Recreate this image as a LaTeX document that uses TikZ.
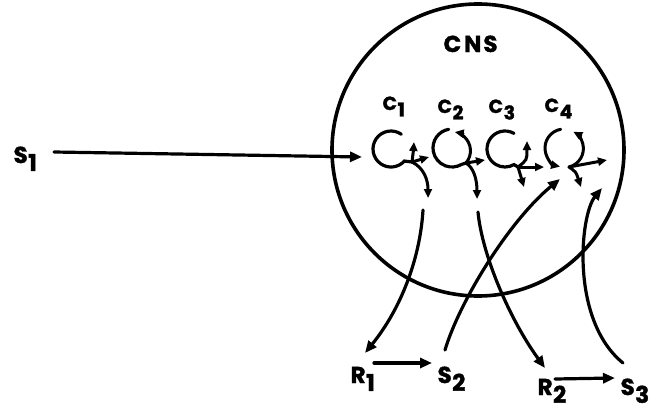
\documentclass[tikz,border=0pt]{standalone}
\usepackage{fontspec}
\setmainfont{Poppins}[BoldFeatures={FakeBold=1.6}]
\usetikzlibrary{arrows.meta}
\newcommand\lblsub[2]{#1\kern0.5pt\raisebox{-0.34em}{#2}}
\begin{document}
\begin{tikzpicture}[x=1pt,y=-1pt,
  line width=3.2pt, line cap=round,
  arr/.style={-{Triangle[length=12pt,width=10pt]}, line width=3.2pt},
  sarr/.style={-{Triangle[length=9pt,width=8pt]}, line width=3pt},
  lab/.style={font=\fontsize{23}{23}\selectfont\bfseries, inner sep=0pt, anchor=base west},
  clab/.style={font=\fontsize{19}{19}\selectfont\bfseries, inner sep=0pt, anchor=base west},
  loop/.style={line width=3.2pt}]
\useasboundingbox (0,0) rectangle (649,410);

% CNS circle
\node (cns) [circle, draw, line width=3.6pt, minimum size=292pt, inner sep=0pt] at (478,150) {};
\node (cnslab) [lab] at (442,52) {C\hspace{3pt}N\hspace{2pt}S};

% labels
\node (S1) [lab] at (12,163) {\lblsub{S}{1}};
\node (C1) [clab] at (381,110) {\lblsub{C}{1}};
\node (C2) [clab] at (436,113) {\lblsub{C}{2}};
\node (C3) [clab] at (487,113) {\lblsub{C}{3}};
\node (C4) [clab] at (543,112) {\lblsub{C}{4}};
\node (R1) [lab] at (349,383) {\lblsub{R}{1}};
\node (S2) [lab] at (436,383) {\lblsub{S}{2}};
\node (R2) [lab] at (536,395) {\lblsub{R}{2}};
\node (S3) [lab] at (619,395) {\lblsub{S}{3}};

% junction coordinates
\coordinate (j1) at (412,162);
\coordinate (j2) at (466,163);
\coordinate (j3) at (518,167);
\coordinate (j4) at (569,167);

% loop C1
\draw[loop] (391,149) ++(-55:18) arc[start angle=-55, end angle=-318, radius=18] -- (j1);
\coordinate (c1up) at (414,142);
\coordinate (c1r) at (429,157);
\coordinate (c1d) at (428,198);
\draw[sarr] (j1) .. controls (413,156) .. (c1up);
\draw[sarr] (j1) -- (c1r);
\draw[sarr] (j1) .. controls (424,168) and (428,180) .. (c1d);

% loop C2
\draw[loop] (452,148) ++(-100:19) arc[start angle=-100, end angle=-300, radius=19] -- (j2);
\draw[sarr] (j2) arc[start angle=40, end angle=-80, radius=19];
\coordinate (c2r) at (485,160);
\coordinate (c2d) at (477,199);
\draw[sarr] (j2) -- (c2r);
\draw[sarr] (j2) .. controls (474,168) and (477,180) .. (c2d);

% loop C3
\draw[loop] (505,149) ++(-60:18) arc[start angle=-60, end angle=-300, radius=18] -- (j3);
\coordinate (c3up) at (527,141);
\coordinate (c3r) at (544,167);
\coordinate (c3d) at (524,187);
\draw[sarr] (j3) .. controls (527,160) .. (c3up);
\draw[sarr] (j3) -- (c3r);
\draw[sarr] (j3) -- (c3d);

% loop C4
\draw[sarr] (564,148) ++(-100:19) arc[start angle=-100, end angle=-258, radius=19];
\draw[sarr] (j4) arc[start angle=76, end angle=-62, radius=19];
\coordinate (c4r) at (607,160);
\coordinate (c4d) at (581,187);
\draw[sarr] (j4) -- (c4r);
\draw[sarr] (j4) .. controls (576,172) .. (c4d);

% S1 -> C1
\coordinate (s1out) at (54,152);
\coordinate (c1in) at (362,157);
\draw[arr] (s1out) -- (c1in);

% long arrows
\coordinate (aS) at (423,210);
\coordinate (bS) at (478,212);
\coordinate (cT) at (560,179);
\coordinate (dT) at (602,188);
\draw[arr] (aS) .. controls (420,260) and (400,310) .. ([shift={(16,-30)}]R1.base west);
\draw[arr] (bS) .. controls (482,255) and (510,320) .. ([shift={(9,-27)}]R2.base west);
\draw[arr] ([shift={(9,-33)}]S2.base west) .. controls (460,300) and (510,220) .. (cT);
\draw[arr] ([shift={(4,-32)}]S3.base west) .. controls (570,320) and (580,215) .. (dT);

% R -> S arrows
\draw[arr] ([shift={(25,-20)}]R1.base west) -- ([shift={(-4,-20)}]S2.base west);
\draw[arr] ([shift={(19,-16)}]R2.base west) -- ([shift={(-4,-17)}]S3.base west);
\end{tikzpicture}
\end{document}
